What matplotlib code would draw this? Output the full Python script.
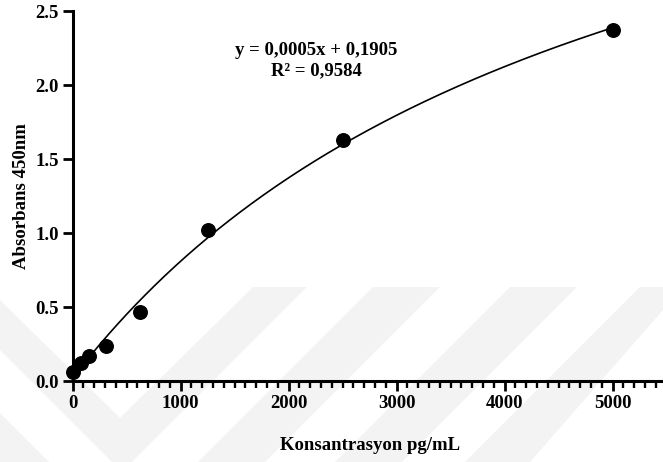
import numpy as np
import matplotlib
matplotlib.use('Agg')
import matplotlib.pyplot as plt
from matplotlib.ticker import MultipleLocator, FormatStrFormatter
from matplotlib.patches import Polygon

# standard curve (pg/mL vs absorbance at 450 nm)
conc = [0, 78.125, 156.25, 312.5, 625, 1250, 2500, 5000]
absorb = [0.063, 0.12, 0.169, 0.239, 0.464, 1.02, 1.628, 2.37]

eq_text = 'y = 0,0005x + 0,1905\nR² = 0,9584'
x_label = 'Konsantrasyon pg/mL'
y_label = 'Absorbans 450nm'

# faint background watermark bands (figure pixels, origin top-left)
watermark = [
    [(0, 300), (120, 418), (253, 287), (307, 287), (132, 462), (112, 462), (0, 350)],
    [(373, 287), (440, 287), (265, 462), (198, 462)],
    [(510, 287), (577, 287), (402, 462), (335, 462)],
    [(640, 287), (663, 287), (663, 310), (530, 462), (465, 462)],
    [(0, 413), (49, 462), (0, 462)],
]


def fit_hyperbola(x, y):
    # y = c + V*x/(K+x); scan K, solve c and V by least squares
    x = np.asarray(x, float)
    y = np.asarray(y, float)
    best = None
    for K in np.geomspace(200, 100000, 2000):
        A = np.column_stack([np.ones_like(x), x / (K + x)])
        sol = np.linalg.lstsq(A, y, rcond=None)[0]
        sse = np.sum((A @ sol - y) ** 2)
        if best is None or sse < best[0]:
            best = (sse, K, sol[0], sol[1])
    _, K, c, V = best
    return lambda t: c + V * t / (K + t)


plt.rcParams['font.family'] = ['Liberation Serif', 'DejaVu Serif']
plt.rcParams['font.weight'] = 'bold'

W, H = 663, 462
fig = plt.figure(figsize=(W / 100, H / 100), dpi=100)

bg = fig.add_axes([0, 0, 1, 1], zorder=-10)
bg.set_xlim(0, W)
bg.set_ylim(H, 0)
bg.axis('off')
for poly in watermark:
    bg.add_patch(Polygon(poly, closed=True, facecolor='#f3f3f3', edgecolor='none'))

ax = fig.add_axes([72.6 / W, 81 / H, 594 / W, 370 / H])
ax.patch.set_alpha(0)

curve = fit_hyperbola(conc, absorb)
xs = np.linspace(0, max(conc), 300)
ax.plot(xs, curve(xs), color='black', lw=1.2, zorder=2)
ax.scatter(conc, absorb, s=95, color='black', zorder=3, clip_on=False)

ax.set_xlim(0, 5500)
ax.set_ylim(0, 2.5)
ax.xaxis.set_major_locator(MultipleLocator(1000))
ax.xaxis.set_minor_locator(MultipleLocator(100))
ax.yaxis.set_major_locator(MultipleLocator(0.5))
ax.yaxis.set_major_formatter(FormatStrFormatter('%.1f'))

for s in ['top', 'right']:
    ax.spines[s].set_visible(False)
for s in ['left', 'bottom']:
    ax.spines[s].set_linewidth(2.2)

ax.tick_params(axis='both', which='major', width=2.0, length=7, labelsize=13.5, pad=3)
ax.tick_params(axis='x', which='minor', width=1.7, length=5)
for lab in ax.get_xticklabels() + ax.get_yticklabels():
    lab.set_fontweight('bold')

ax.set_xlabel(x_label, fontsize=13.5, fontweight='bold', labelpad=18)
ax.set_ylabel(y_label, fontsize=13.5, fontweight='bold', labelpad=4)

ax.text(2254, 2.165, eq_text, ha='center', va='center', fontsize=13.5,
        fontweight='bold', multialignment='center', linespacing=1.2)

fig.savefig('out.png', dpi=100)
